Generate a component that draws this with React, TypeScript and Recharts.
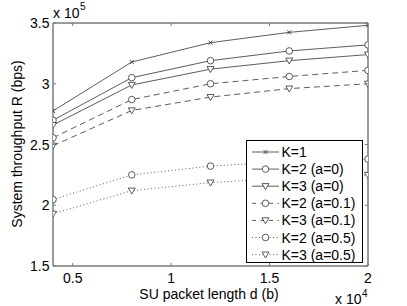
import React from 'react';
import { LineChart, Line, XAxis, YAxis, ReferenceLine } from 'recharts';

// SU packet length d (b)
const lengths = [4000, 8000, 12000, 16000, 20000];
// System throughput R (bps)
const k1 = [277600, 317900, 333800, 342300, 348100];
const k2a0 = [270000, 305000, 319000, 327000, 332000];
const k3a0 = [266000, 299000, 312000, 319000, 324000];
const k2a01 = [255500, 287000, 300000, 306000, 311000];
const k3a01 = [249000, 278000, 289000, 296000, 300000];
const k2a05 = [204700, 225000, 232200, 236000, 238000];
const k3a05 = [193000, 212000, 218600, 222500, 224900];

const xTicks = [5000, 10000, 15000, 20000];
const xTickLabels = ['0.5', '1', '1.5', '2'];
const yTicks = [150000, 200000, 250000, 300000, 350000];
const yTickLabels = ['1.5', '2', '2.5', '3', '3.5'];

const seriesKeys = ['k1', 'k2a0', 'k3a0', 'k2a01', 'k3a01', 'k2a05', 'k3a05'];
const seriesLabels = ['K=1', 'K=2 (a=0)', 'K=3 (a=0)', 'K=2 (a=0.1)', 'K=3 (a=0.1)', 'K=2 (a=0.5)', 'K=3 (a=0.5)'];
const seriesMarkers = ['x', 'o', 'v', 'o', 'v', 'o', 'v'];
const seriesDash = ['', '', '', '6 4', '6 4', '1 2.5', '1 2.5'];

const seriesValues = [k1, k2a0, k3a0, k2a01, k3a01, k2a05, k3a05];
const data = lengths.map((d, i) => {
  const row: Record<string, number> = { d };
  seriesKeys.forEach((k, j) => {
    row[k] = seriesValues[j][i];
  });
  return row;
});

const FONT = '"Liberation Sans", Arial, Helvetica, sans-serif';
const FS = 14;
const AXIS = '#7a7a7a';
const LINE = '#333';
const TOP = 23;
const BOTTOM = 266;
const LEFT = 53;
const RIGHT = 368;
const TICK = 3;

function Marker({ kind, cx, cy }: { kind: string; cx: number; cy: number }) {
  if (cx == null || cy == null) return null;
  if (kind === 'x') {
    const a = 2;
    return (
      <g stroke={LINE} strokeWidth={0.9}>
        <line x1={cx - a} y1={cy - a} x2={cx + a} y2={cy + a} />
        <line x1={cx - a} y1={cy + a} x2={cx + a} y2={cy - a} />
      </g>
    );
  }
  if (kind === 'o') {
    return <circle cx={cx} cy={cy} r={3.3} fill="#fff" stroke={LINE} strokeWidth={0.8} />;
  }
  return (
    <polygon
      points={`${cx - 3.5},${cy - 2.6} ${cx + 3.5},${cy - 2.6} ${cx},${cy + 3.4}`}
      fill="#fff"
      stroke={LINE}
      strokeWidth={0.8}
      strokeLinejoin="miter"
    />
  );
}

function XTick(props: any) {
  const { x, y, payload } = props;
  const idx = xTicks.indexOf(payload.value);
  return (
    <g>
      <line x1={x} y1={BOTTOM} x2={x} y2={BOTTOM - TICK} stroke={AXIS} strokeWidth={1} />
      <line x1={x} y1={TOP} x2={x} y2={TOP + TICK} stroke={AXIS} strokeWidth={1} />
      <text x={x} y={y + 16.5} textAnchor="middle" fontFamily={FONT} fontSize={FS} fill="#000">
        {idx >= 0 ? xTickLabels[idx] : ''}
      </text>
    </g>
  );
}

function YTick(props: any) {
  const { x, y, payload } = props;
  const idx = yTicks.indexOf(payload.value);
  return (
    <g>
      <line x1={LEFT} y1={y} x2={LEFT + TICK} y2={y} stroke={AXIS} strokeWidth={1} />
      <line x1={RIGHT} y1={y} x2={RIGHT - TICK} y2={y} stroke={AXIS} strokeWidth={1} />
      <text x={x - 3.5} y={y + 5} textAnchor="end" fontFamily={FONT} fontSize={FS} fill="#000">
        {idx >= 0 ? yTickLabels[idx] : ''}
      </text>
    </g>
  );
}

function LegendBox() {
  const rowH = 17.1;
  return (
    <div
      style={{
        position: 'absolute',
        left: 246,
        top: 140,
        width: 115,
        height: 121,
        border: '1px solid #000',
        background: '#fff',
      }}
    >
      <svg width={115} height={121} style={{ display: 'block' }}>
        {seriesLabels.map((label, i) => {
          const cy = 11 + i * rowH;
          return (
            <g key={label}>
              <line
                x1={5}
                y1={cy}
                x2={32}
                y2={cy}
                stroke={LINE}
                strokeWidth={0.8}
                strokeDasharray={seriesDash[i] === '6 4' ? '4 4.5' : seriesDash[i] || undefined}
              />
              <Marker kind={seriesMarkers[i]} cx={18.5} cy={cy} />
              <text x={34.5} y={cy + 5} fontFamily={FONT} fontSize={FS} fill="#000">
                {label}
              </text>
            </g>
          );
        })}
      </svg>
    </div>
  );
}

export default function App() {
  return (
    <div style={{ position: 'absolute', left: 0, top: 0, width: 407, height: 306, background: '#fff' }}>
      <LineChart
        width={407}
        height={306}
        data={data}
        margin={{ top: TOP, right: 407 - RIGHT, left: 0, bottom: 0 }}
      >
        <XAxis
          dataKey="d"
          type="number"
          domain={[4000, 20000]}
          ticks={xTicks}
          interval={0}
          height={306 - BOTTOM}
          tickSize={0}
          tickMargin={0}
          tickLine={false}
          axisLine={{ stroke: AXIS, strokeWidth: 1.5 }}
          tick={<XTick />}
          allowDataOverflow
        />
        <YAxis
          type="number"
          domain={[150000, 350000]}
          ticks={yTicks}
          interval={0}
          width={LEFT}
          tickSize={0}
          tickMargin={0}
          tickLine={false}
          axisLine={{ stroke: AXIS, strokeWidth: 1.5 }}
          tick={<YTick />}
          allowDataOverflow
        />
        <ReferenceLine y={350000} stroke={AXIS} strokeWidth={1.5} />
        <ReferenceLine x={20000} stroke={AXIS} strokeWidth={1.5} />
        {seriesKeys.map((k, i) => (
          <Line
            key={k}
            dataKey={k}
            type="linear"
            stroke={LINE}
            strokeWidth={0.8}
            strokeDasharray={seriesDash[i] || undefined}
            isAnimationActive={false}
            dot={(p: any) => <Marker key={`${k}-${p.index}`} kind={seriesMarkers[i]} cx={p.cx} cy={p.cy} />}
            activeDot={false}
          />
        ))}
      </LineChart>
      <svg
        width={407}
        height={306}
        style={{ position: 'absolute', left: 0, top: 0, pointerEvents: 'none' }}
      >
        <text x={53} y={18} fontFamily={FONT} fontSize={FS} fill="#000">
          x 10
        </text>
        <text x={80} y={10} fontFamily={FONT} fontSize={10} fill="#000">
          5
        </text>
        <text x={209} y={299} textAnchor="middle" fontFamily={FONT} fontSize={FS} fill="#000">
          SU packet length d (b)
        </text>
        <text x={335} y={304} fontFamily={FONT} fontSize={FS} fill="#000">
          x 10
        </text>
        <text x={362} y={297} fontFamily={FONT} fontSize={10} fill="#000">
          4
        </text>
        <text
          x={22}
          y={144}
          textAnchor="middle"
          transform="rotate(-90 22 144)"
          fontFamily={FONT}
          fontSize={FS}
          fill="#000"
        >
          System throughput R (bps)
        </text>
      </svg>
      <LegendBox />
    </div>
  );
}
